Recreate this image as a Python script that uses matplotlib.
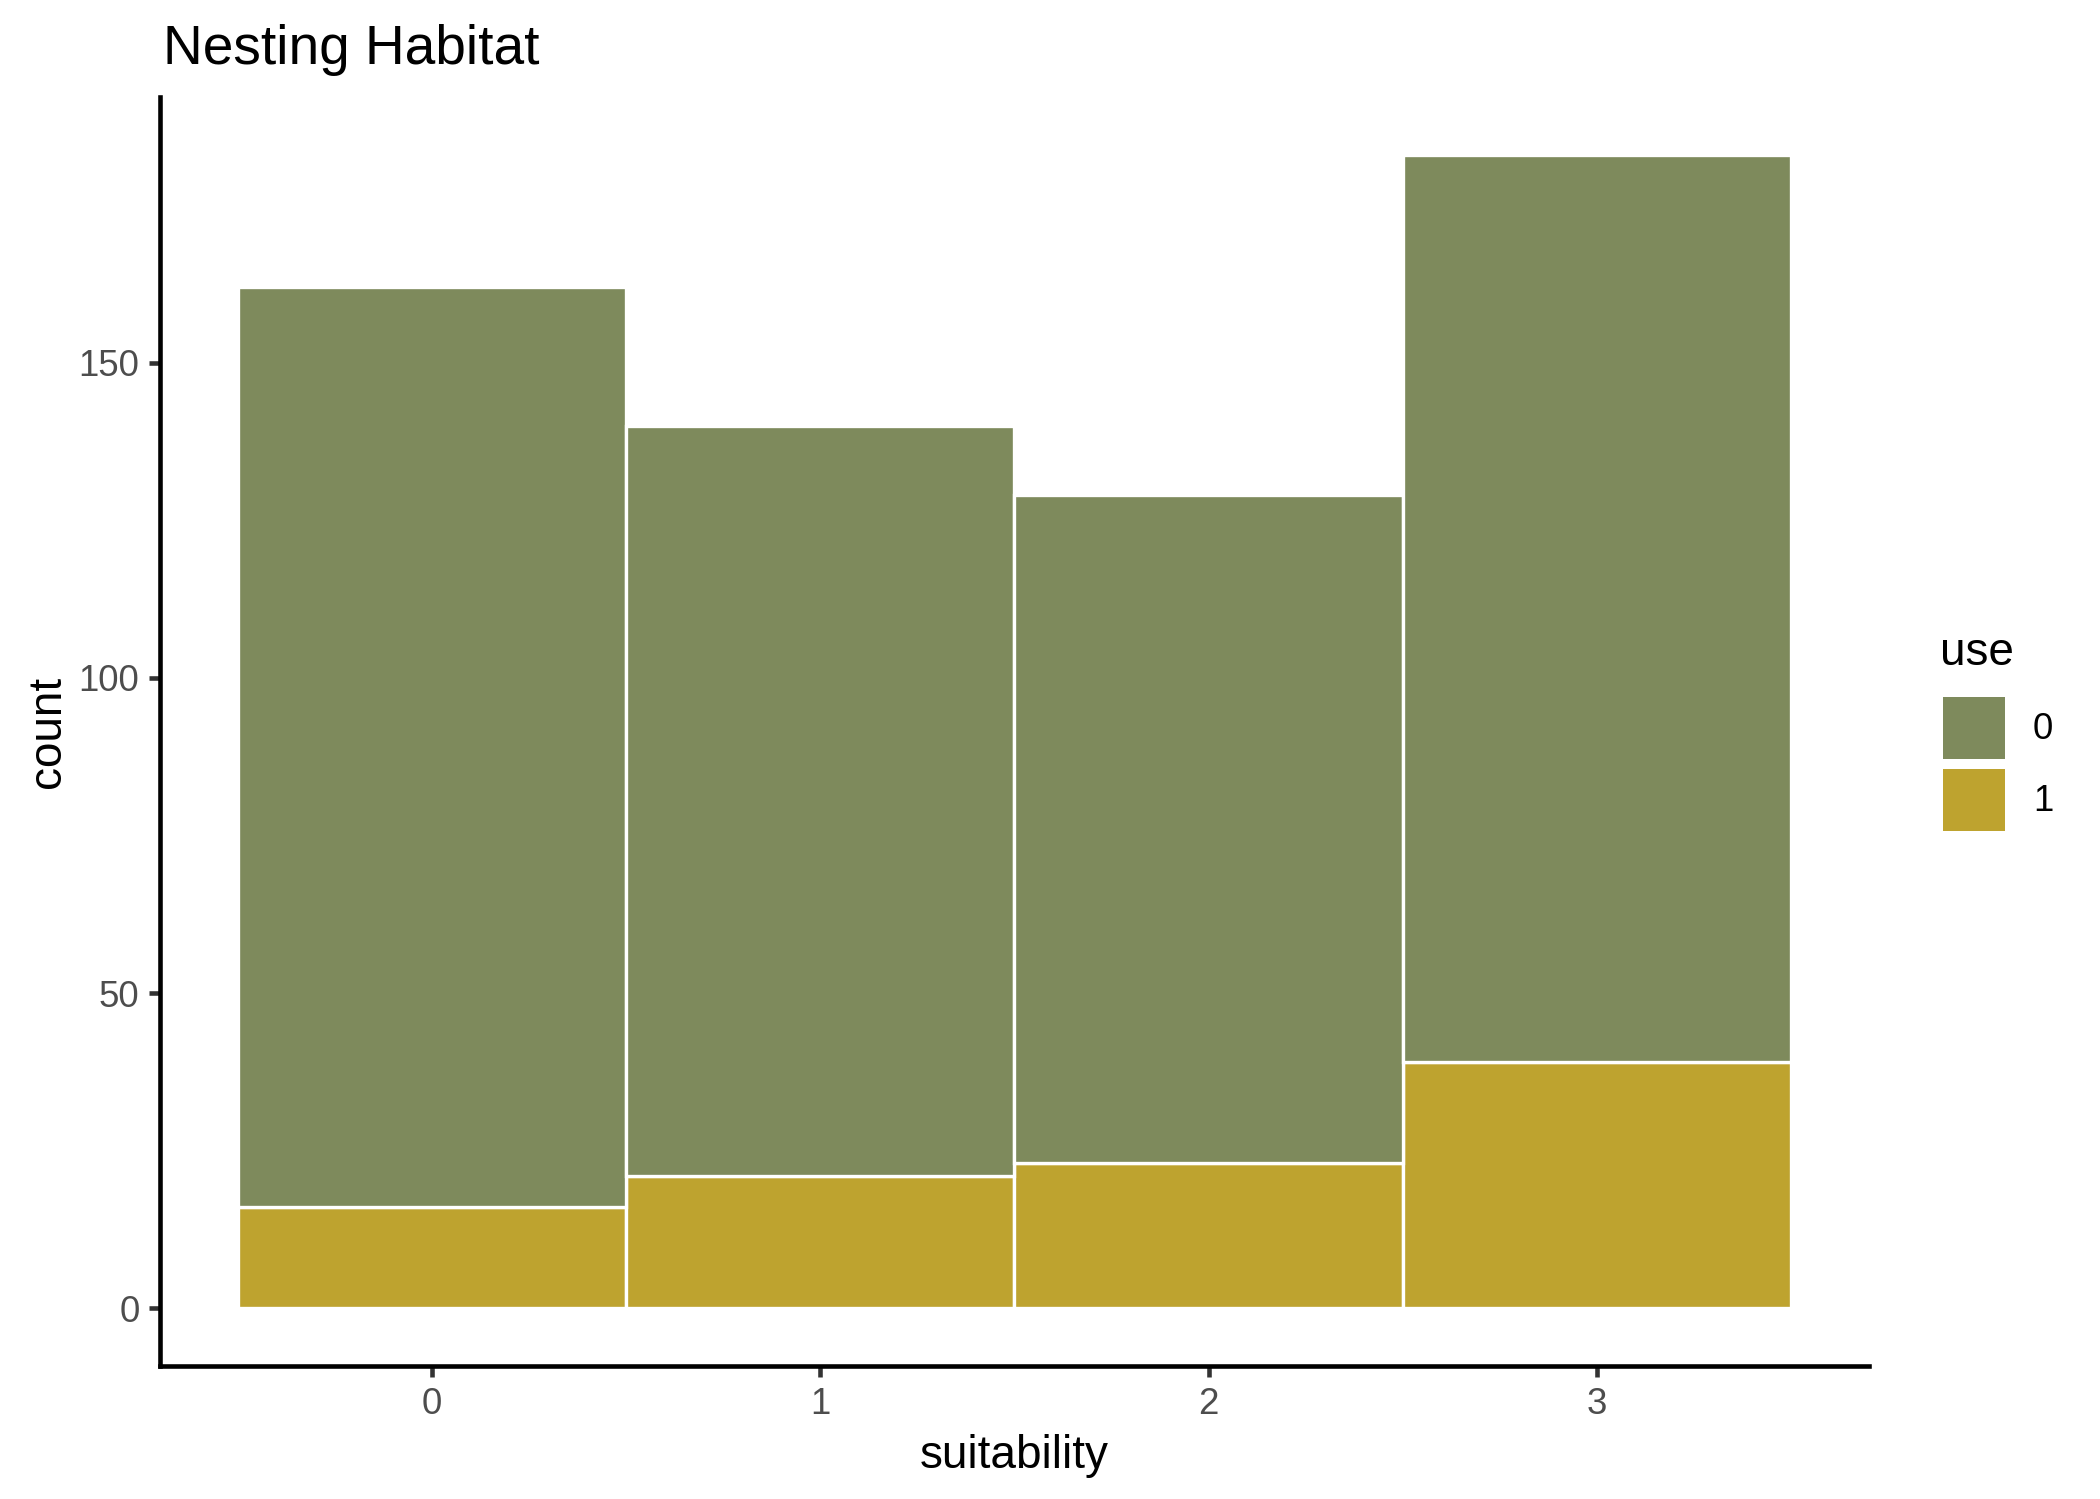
import matplotlib
matplotlib.use("Agg")
import matplotlib.pyplot as plt
import matplotlib.patches as mplpatches
import numpy as np

plt.rcParams['font.family'] = ['Liberation Sans', 'DejaVu Sans']

# data
suitability = [0, 1, 2, 3]
used = [16, 21, 23, 39]          # use = 1
not_used = [146, 119, 106, 144]  # use = 0
use_levels = ['0', '1']
use_colors = ['#7E8A5C', '#BEA32F']

figureWidth = 7
figureHeight = 4.997
fig = plt.figure(figsize=(figureWidth, figureHeight), dpi=300)

# main panel, positions in pixels of a 2100x1499 canvas
left, right, bottom, top = 160, 1869, 1366, 97
ax = fig.add_axes([left / 2100, 1 - bottom / 1499,
                   (right - left) / 2100, (bottom - top) / 1499])

ax.bar(suitability, used, width=1, color=use_colors[1],
       edgecolor='white', linewidth=0.8, zorder=2)
ax.bar(suitability, not_used, width=1, bottom=used, color=use_colors[0],
       edgecolor='white', linewidth=0.8, zorder=2)

totals = np.array(used) + np.array(not_used)
ymax = totals.max()
ax.set_xlim(-0.7, 3.7)
ax.set_ylim(-0.05 * ymax, 1.05 * ymax)
ax.set_xticks(suitability)
ax.set_yticks([0, 50, 100, 150])

for side in ['top', 'right']:
    ax.spines[side].set_visible(False)
for side in ['left', 'bottom']:
    ax.spines[side].set_linewidth(1.1)
    ax.spines[side].set_color('black')
    ax.spines[side].set_capstyle('projecting')
ax.tick_params(axis='both', length=2.75, width=1.1, color='#333333',
               labelsize=8.8, labelcolor='#4D4D4D', pad=2.2)

ax.set_xlabel('suitability', fontsize=11, labelpad=3)
ax.set_ylabel('count', fontsize=11, labelpad=2)

fig.text(163 / 2100, 1 - 64 / 1499, 'Nesting Habitat', fontsize=13.2,
         ha='left', va='baseline')

# legend
fig.text(1940 / 2100, 1 - 665 / 1499, 'use', fontsize=11,
         ha='left', va='baseline')
handles = [mplpatches.Patch(facecolor=c, edgecolor='white', linewidth=2.4)
           for c in use_colors]
leg = ax.legend(handles, use_levels, loc='upper left',
                bbox_to_anchor=(1938 / 2100, 1 - 692 / 1499),
                bbox_transform=fig.transFigure, frameon=False,
                fontsize=8.8, borderpad=0, borderaxespad=0,
                handlelength=1.96, handleheight=2.645,
                labelspacing=0, handletextpad=0.625)

fig.savefig('out.png', dpi=300, facecolor='white')
